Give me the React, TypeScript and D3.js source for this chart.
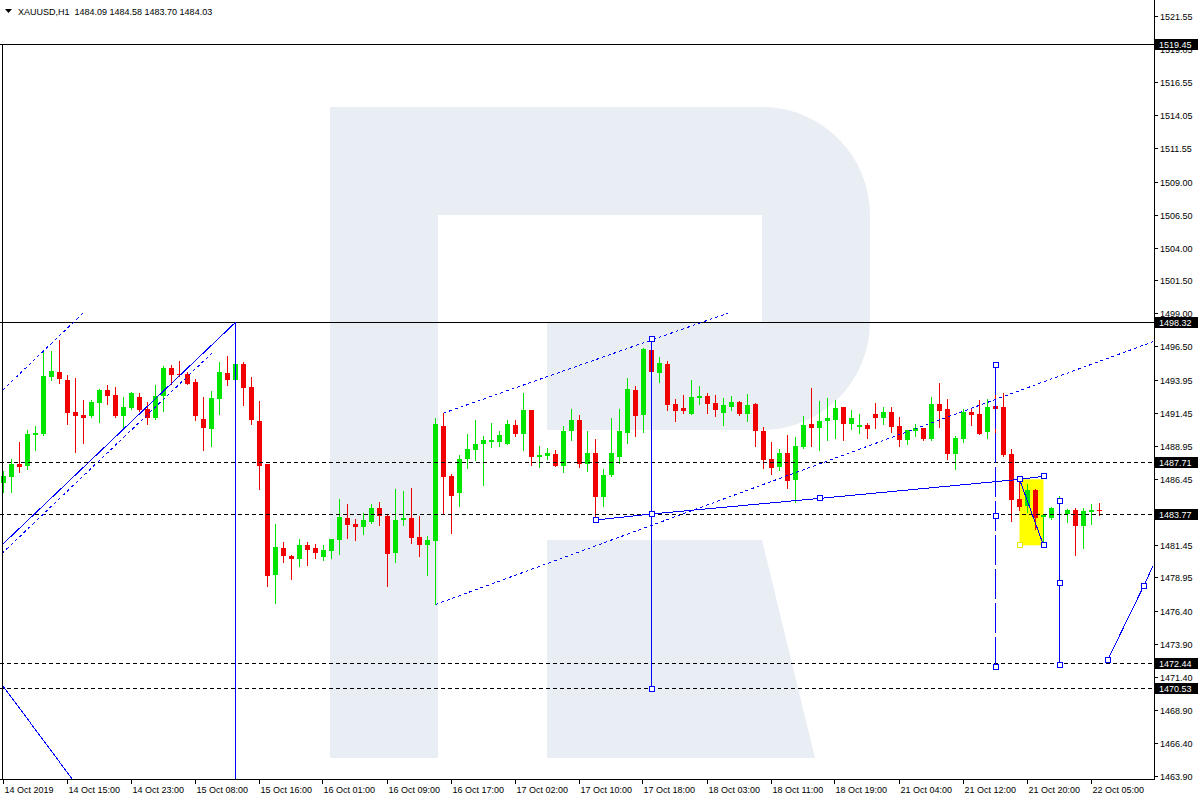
import React from 'react';
import * as d3 from 'd3';

// hourly bars (open, high, low, close)
const opens = [1486.14,1486.60,1487.59,1487.45,1489.76,1489.84,1494.19,1494.55,1493.94,1491.51,1491.28,1491.23,1492.22,1493.18,1492.80,1491.23,1491.81,1492.65,1491.76,1491.08,1492.75,1494.85,1494.42,1494.42,1493.79,1490.98,1490.24,1492.52,1494.47,1493.94,1495.15,1493.43,1490.83,1487.56,1479.13,1481.19,1480.58,1480.35,1481.41,1481.19,1480.50,1480.96,1481.79,1483.46,1483.01,1482.78,1483.16,1484.22,1483.62,1480.81,1483.31,1483.46,1482.02,1481.41,1481.72,1490.45,1486.65,1485.36,1487.92,1488.65,1489.10,1489.26,1489.26,1489.10,1490.52,1489.84,1491.66,1488.12,1488.19,1488.32,1487.43,1490.07,1490.90,1487.59,1488.40,1485.08,1486.73,1488.10,1489.92,1493.18,1491.28,1496.22,1494.49,1495.15,1492.12,1491.81,1491.36,1492.57,1492.72,1492.19,1491.43,1491.89,1492.27,1491.36,1492.12,1490.07,1487.94,1487.33,1488.40,1486.35,1488.85,1490.60,1490.29,1490.83,1490.90,1491.89,1490.60,1490.37,1490.52,1491.36,1491.05,1491.51,1490.45,1489.38,1490.07,1490.29,1489.46,1492.12,1491.74,1488.32,1489.46,1491.51,1491.36,1489.99,1491.96,1491.89,1488.32,1484.91,1484.37,1485.59,1483.57,1483.46,1483.69,1483.77,1484.07,1482.86,1483.92,1484.09];
const highs = [1487.03,1487.92,1489.23,1490.14,1490.45,1496.14,1496.14,1496.97,1494.29,1494.09,1492.42,1492.42,1493.25,1493.56,1493.41,1492.65,1493.03,1492.95,1492.27,1493.56,1495.00,1495.08,1495.38,1494.57,1494.01,1492.65,1493.10,1495.30,1495.76,1498.32,1495.30,1494.19,1492.34,1487.60,1483.01,1481.64,1480.62,1481.87,1481.64,1481.49,1481.41,1481.90,1484.91,1484.53,1483.39,1483.84,1484.53,1484.68,1483.66,1485.66,1485.51,1485.73,1483.62,1482.10,1491.05,1491.43,1486.78,1488.25,1489.84,1490.90,1489.69,1490.70,1490.07,1490.90,1490.90,1492.95,1491.70,1488.95,1488.78,1488.62,1490.45,1491.74,1491.28,1490.07,1489.46,1487.18,1491.05,1491.74,1494.09,1493.48,1496.35,1497.03,1495.68,1495.38,1492.50,1492.80,1493.94,1493.48,1492.95,1492.80,1492.57,1492.72,1492.34,1492.88,1492.19,1490.37,1489.23,1488.70,1489.76,1489.61,1491.21,1493.33,1492.34,1492.57,1492.42,1491.92,1491.66,1491.36,1490.67,1492.19,1491.89,1491.89,1491.13,1490.16,1490.60,1490.31,1492.65,1493.71,1492.50,1489.69,1491.74,1491.81,1492.42,1492.50,1494.85,1492.95,1488.70,1486.35,1486.04,1485.66,1483.72,1484.30,1485.13,1484.15,1484.22,1484.22,1484.53,1484.58];
const lows = [1485.46,1485.46,1486.98,1487.20,1488.62,1489.76,1493.94,1493.73,1490.60,1488.50,1489.16,1491.15,1490.75,1492.12,1491.15,1490.29,1491.71,1491.61,1490.62,1491.02,1491.61,1493.61,1494.24,1493.61,1490.92,1488.65,1488.95,1491.38,1493.58,1493.63,1492.06,1490.60,1485.66,1478.30,1477.01,1480.12,1478.83,1479.82,1479.90,1480.43,1480.28,1480.43,1480.73,1481.95,1481.79,1482.25,1483.12,1482.93,1478.30,1480.12,1482.93,1481.57,1480.58,1479.13,1476.90,1483.84,1482.32,1484.37,1487.26,1487.87,1485.97,1488.88,1488.95,1489.06,1489.69,1488.62,1487.51,1487.33,1487.97,1487.40,1486.96,1489.38,1487.31,1487.05,1483.31,1484.37,1486.65,1487.64,1489.16,1489.71,1490.01,1494.09,1493.79,1491.66,1490.83,1491.43,1491.34,1492.12,1491.43,1491.21,1490.52,1491.66,1491.28,1490.83,1488.93,1487.26,1486.80,1487.11,1485.74,1484.68,1488.78,1488.93,1488.62,1489.38,1489.54,1489.38,1490.22,1489.92,1489.54,1490.29,1490.60,1489.99,1488.93,1489.08,1489.69,1489.38,1489.38,1490.37,1487.94,1487.18,1489.23,1490.52,1489.82,1489.54,1489.38,1488.17,1483.24,1484.07,1483.92,1482.63,1481.49,1483.39,1483.65,1483.16,1480.66,1481.19,1483.01,1483.70];
const closes = [1486.65,1487.59,1487.36,1489.84,1489.92,1494.26,1494.62,1494.01,1491.46,1491.21,1491.08,1492.27,1493.20,1492.75,1491.21,1491.87,1492.95,1491.66,1491.08,1492.72,1494.85,1494.32,1494.34,1493.66,1491.23,1490.32,1492.57,1494.55,1493.94,1495.15,1493.35,1490.90,1487.41,1479.06,1481.26,1480.58,1480.35,1481.41,1481.03,1480.81,1481.03,1481.87,1483.54,1482.93,1482.78,1483.31,1484.22,1483.62,1480.73,1483.31,1483.46,1481.95,1481.41,1481.79,1490.60,1486.58,1485.16,1487.94,1488.70,1489.08,1489.38,1489.38,1489.76,1490.60,1489.84,1491.66,1488.12,1488.25,1488.40,1487.43,1490.07,1490.90,1487.59,1488.40,1485.08,1486.73,1488.40,1490.07,1493.25,1491.23,1496.29,1494.55,1495.23,1492.04,1491.59,1491.59,1492.65,1492.72,1492.12,1491.66,1492.04,1492.27,1491.36,1492.04,1490.07,1487.87,1487.26,1488.40,1486.29,1488.93,1490.52,1490.29,1490.83,1491.05,1491.81,1490.60,1491.05,1490.52,1490.22,1491.05,1491.51,1490.37,1489.38,1490.14,1490.29,1489.46,1492.12,1491.59,1488.32,1489.54,1491.51,1491.28,1489.84,1491.89,1491.74,1488.25,1484.83,1484.30,1485.59,1483.46,1483.67,1484.22,1483.77,1484.07,1482.86,1484.00,1484.07,1484.03];

// a time label every 8 bars
const timeLabels = ['14 Oct 2019','14 Oct 15:00','14 Oct 23:00','15 Oct 08:00','15 Oct 16:00','16 Oct 01:00','16 Oct 09:00','16 Oct 17:00','17 Oct 02:00','17 Oct 10:00','17 Oct 18:00','18 Oct 03:00','18 Oct 11:00','18 Oct 19:00','21 Oct 04:00','21 Oct 12:00','21 Oct 20:00','22 Oct 05:00'];
const priceTicks = [1521.55,1519.05,1516.55,1514.05,1511.55,1509.00,1506.50,1504.00,1501.50,1499.00,1496.50,1493.95,1491.45,1488.95,1486.45,1483.95,1481.45,1478.95,1476.40,1473.90,1471.40,1468.90,1466.40,1463.90];
const solidLevels = [1519.45, 1498.32];
const dashedLevels = [1487.71, 1483.77, 1472.44, 1470.53];

// drawn objects: [bar index, price]
const leftChannelTop = [[-0.1, 1493.18], [9.94, 1499.02]];
const leftChannelLine = [[-0.19, 1481.42], [29, 1498.32]];
const leftChannelDotted = [[-0.19, 1480.77], [26.44, 1496.21]];
const bottomLeftLine = [[-0.06, 1470.71], [9.5, 1462.9]];
const leftVertical = [[29, 1498.32], [29, 1462.0]];
const channelUpper = [[55, 1491.43], [90.56, 1499.02]];
const channelLower = [[54, 1476.9], [143.7, 1496.85]];
const trendPoints = [[74, 1483.31], [81, 1483.77], [102.1, 1484.96], [127, 1486.4], [130, 1486.63]];
const vertA = [[81, 1497.03], [81, 1483.77], [81, 1470.48]];
const vertB = [[124, 1495.08], [124, 1483.62], [124, 1472.13]];
const vertC = [[132, 1484.73], [132, 1478.51], [132, 1472.28]];
const rightLine = [[138, 1472.66], [142.5, 1478.28], [143.7, 1479.84]];
const boxBars = [127, 130];
const boxPrices = [1486.4, 1481.39];

const PLOT_R = 1154;
const PLOT_B = 779;
const FONT = 'Liberation Sans, Arial, sans-serif';
const BLUE = '#0000ff';
const UP = '#00e400';
const DOWN = '#f00000';

const x = d3.scaleLinear().domain([0, 137]).range([3.5, 3.5 + 8 * 137]);
const y = d3.scaleLinear().domain([1463.9, 1521.55]).range([775.7, 16.4]);
const line = d3.line<number[]>().x((d) => x(d[0])).y((d) => y(d[1]));

const Square = ({ p }: { p: number[] }) => (
  <rect x={Math.round(x(p[0])) - 2.5} y={Math.round(y(p[1])) - 2.5} width={5} height={5}
    fill="#fff" stroke={BLUE} strokeWidth={1} />
);

export default function App() {
  const levelY = (v: number) => Math.round(y(v)) + 0.5;

  return (
    <svg width={1200} height={800} style={{ position: 'absolute', left: 0, top: 0, background: '#fff' }}>
      <defs>
        <clipPath id="plot"><rect x={0} y={0} width={PLOT_R} height={PLOT_B} /></clipPath>
      </defs>

      {/* watermark logo */}
      <g fill="#e9edf4">
        <rect x={330} y={107} width={108} height={651} />
        <path d="M438,107 H762 A108,108 0 0 1 870,215 V322 A108,108 0 0 1 762,430 H547 V323 H762 V215 H438 Z" />
        <path d="M547,540 H762 L815,758 H547 Z" />
      </g>

      <g clipPath="url(#plot)">
        {/* yellow box */}
        <rect x={x(boxBars[0])} y={y(boxPrices[0])} width={x(boxBars[1]) - x(boxBars[0])}
          height={y(boxPrices[1]) - y(boxPrices[0])} fill="#ffff00" />

        {/* candles */}
        {opens.map((o, i) => {
          const c = closes[i];
          const col = c >= o ? UP : DOWN;
          const top = Math.round(y(Math.max(o, c)));
          const bot = Math.round(y(Math.min(o, c)));
          const hi = Math.round(y(highs[i]));
          const lo = Math.round(y(lows[i]));
          const cx = x(i);
          return (
            <g key={i} fill={col}>
              <rect x={cx - 0.5} y={hi} width={1} height={lo - hi + 1} />
              <rect x={cx - 2.5} y={top} width={5} height={Math.max(1, bot - top)} />
            </g>
          );
        })}

        {/* horizontal levels */}
        {solidLevels.map((v) => (
          <line key={v} x1={0} x2={PLOT_R} y1={levelY(v)} y2={levelY(v)} stroke="#000" />
        ))}
        {dashedLevels.map((v) => (
          <line key={v} x1={0} x2={PLOT_R} y1={levelY(v)} y2={levelY(v)} stroke="#000" strokeDasharray="4,3" />
        ))}

        {/* drawn objects */}
        <g fill="none" stroke={BLUE} strokeWidth={1} shapeRendering="crispEdges">
          <path d={line(leftChannelTop) || ''} strokeDasharray="3,3" />
          <path d={line(leftChannelLine) || ''} />
          <path d={line(leftChannelDotted) || ''} strokeDasharray="3,3" />
          <path d={line(bottomLeftLine) || ''} />
          <path d={line(leftVertical) || ''} />
          <path d={line(channelUpper) || ''} strokeDasharray="3,3" />
          <path d={line(channelLower) || ''} strokeDasharray="3,3" />
          <path d={line(trendPoints) || ''} />
          <path d={line(vertA) || ''} />
          <path d={line(vertB) || ''} strokeDasharray="30,4" />
          <path d={line(vertC) || ''} />
          <path d={line(rightLine) || ''} />
          <path d={line([[boxBars[0], boxPrices[0]], [boxBars[1], boxPrices[1]]]) || ''} />
        </g>
        <g shapeRendering="crispEdges">
          {[...trendPoints, ...vertA, ...vertB, ...vertC, rightLine[0], rightLine[1], [boxBars[1], boxPrices[1]]].map((p, i) => (
            <Square key={i} p={p} />
          ))}
          <rect x={Math.round(x(boxBars[0])) - 2.5} y={Math.round(y(boxPrices[1])) - 2.5} width={5} height={5} fill="#fff" stroke="#e8e800" />
        </g>
      </g>

      {/* frame */}
      <g stroke="#000" shapeRendering="crispEdges">
        <line x1={2.5} x2={2.5} y1={levelY(solidLevels[0])} y2={PLOT_B} />
        <line x1={PLOT_R + 0.5} x2={PLOT_R + 0.5} y1={0} y2={PLOT_B + 1} />
        <line x1={0} x2={PLOT_R + 1} y1={PLOT_B + 0.5} y2={PLOT_B + 0.5} />
      </g>

      {/* price axis */}
      <g fontFamily={FONT} fontSize={9} fill="#000">
        {priceTicks.map((v) => {
          const py = Math.round(y(v)) + 0.5;
          return (
            <g key={v}>
              <line x1={PLOT_R + 1} x2={PLOT_R + 4} y1={py} y2={py} stroke="#000" />
              <text x={1160} y={py + 3.5}>{v.toFixed(2)}</text>
            </g>
          );
        })}
        {[...solidLevels, ...dashedLevels].map((v) => {
          const py = Math.round(y(v));
          return (
            <g key={'l' + v}>
              <rect x={1155} y={py - 5} width={43} height={11} fill="#000" />
              <text x={1159} y={py + 4} fill="#fff">{v.toFixed(2)}</text>
            </g>
          );
        })}
      </g>

      {/* time axis */}
      <g fontFamily={FONT} fontSize={9} fill="#000">
        {timeLabels.map((t, k) => {
          const tx = Math.round(x(k * 8)) - 0.5;
          return (
            <g key={t}>
              <line x1={tx} x2={tx} y1={PLOT_B + 1} y2={PLOT_B + 5} stroke="#000" />
              <text x={tx + 1} y={793}>{t}</text>
            </g>
          );
        })}
      </g>

      {/* title */}
      <path d="M5,9 L12,9 L8.5,13 Z" fill="#000" />
      <text x={18} y={14.5} fontFamily={FONT} fontSize={9} style={{ whiteSpace: 'pre' }}>
        {'XAUUSD,H1  1484.09 1484.58 1483.70 1484.03'}
      </text>
    </svg>
  );
}
